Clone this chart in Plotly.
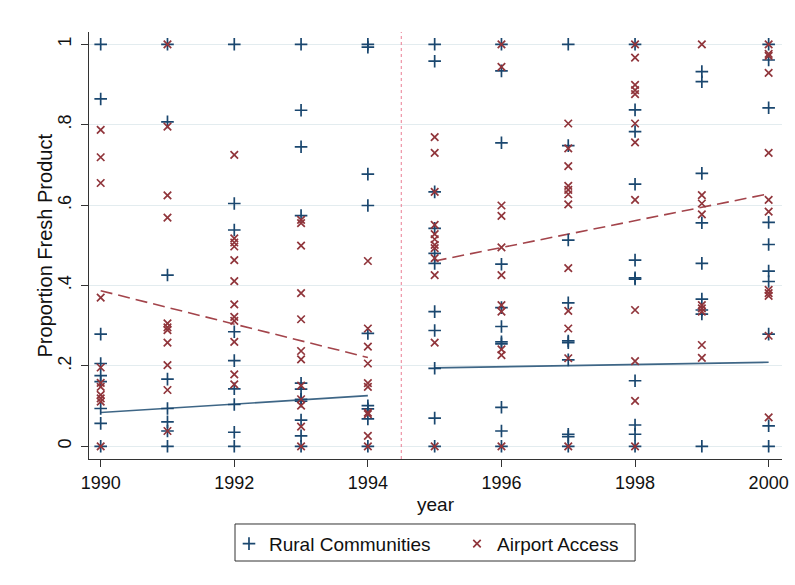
import plotly.graph_objects as go

# Proportion of fresh product by year, two community groups
years = list(range(1990, 2001))

rural_1990 = [1.0, 0.864, 0.279, 0.206, 0.176, 0.161, 0.094, 0.057, 0.0]
rural_1991 = [1.0, 0.807, 0.426, 0.167, 0.094, 0.061, 0.038, 0.0]
rural_1992 = [1.0, 0.604, 0.538, 0.285, 0.213, 0.143, 0.104, 0.035, 0.0]
rural_1993 = [1.0, 0.836, 0.745, 0.574, 0.157, 0.142, 0.117, 0.112, 0.065, 0.026, 0.0]
rural_1994 = [1.0, 0.993, 0.677, 0.599, 0.281, 0.101, 0.093, 0.068, 0.0]
rural_1995 = [1.0, 0.958, 0.633, 0.542, 0.480, 0.455, 0.335, 0.288, 0.194, 0.070, 0.0]
rural_1996 = [1.0, 0.934, 0.755, 0.453, 0.345, 0.298, 0.260, 0.255, 0.097, 0.038, 0.0]
rural_1997 = [1.0, 0.748, 0.513, 0.357, 0.262, 0.258, 0.215, 0.030, 0.024, 0.0]
rural_1998 = [1.0, 0.837, 0.783, 0.652, 0.463, 0.419, 0.416, 0.163, 0.053, 0.030, 0.0]
rural_1999 = [0.932, 0.907, 0.679, 0.556, 0.455, 0.366, 0.339, 0.329, 0.0]
rural_2000 = [1.0, 0.961, 0.842, 0.557, 0.502, 0.436, 0.410, 0.279, 0.051, 0.0]

airport_1990 = [0.787, 0.719, 0.655, 0.370, 0.196, 0.158, 0.148, 0.128, 0.119, 0.111, 0.0]
airport_1991 = [1.0, 0.795, 0.624, 0.569, 0.306, 0.296, 0.289, 0.258, 0.202, 0.140, 0.038]
airport_1992 = [0.725, 0.517, 0.507, 0.497, 0.463, 0.411, 0.353, 0.322, 0.312, 0.260, 0.179, 0.154]
airport_1993 = [0.563, 0.555, 0.499, 0.381, 0.316, 0.237, 0.216, 0.151, 0.117, 0.101, 0.049, 0.0]
airport_1994 = [0.461, 0.293, 0.248, 0.206, 0.157, 0.148, 0.084, 0.080, 0.026, 0.0]
airport_1995 = [0.769, 0.730, 0.633, 0.551, 0.528, 0.515, 0.501, 0.493, 0.468, 0.426, 0.258, 0.0]
airport_1996 = [1.0, 0.944, 0.599, 0.573, 0.495, 0.426, 0.351, 0.335, 0.241, 0.227, 0.0]
airport_1997 = [0.803, 0.741, 0.697, 0.648, 0.638, 0.627, 0.602, 0.443, 0.337, 0.293, 0.219, 0.0]
airport_1998 = [1.0, 0.967, 0.899, 0.886, 0.876, 0.803, 0.756, 0.613, 0.339, 0.212, 0.113, 0.0]
airport_1999 = [1.0, 0.625, 0.604, 0.577, 0.351, 0.343, 0.335, 0.252, 0.220]
airport_2000 = [1.0, 0.976, 0.971, 0.929, 0.730, 0.613, 0.584, 0.389, 0.381, 0.374, 0.275, 0.072]

rural_by_year = [rural_1990, rural_1991, rural_1992, rural_1993, rural_1994, rural_1995,
                 rural_1996, rural_1997, rural_1998, rural_1999, rural_2000]
airport_by_year = [airport_1990, airport_1991, airport_1992, airport_1993, airport_1994,
                   airport_1995, airport_1996, airport_1997, airport_1998, airport_1999,
                   airport_2000]

# Linear fits before and after the 1994.5 break
fit_years_pre = [1990, 1994]
fit_years_post = [1995, 2000]
rural_fit_pre = [0.084, 0.126]
rural_fit_post = [0.195, 0.209]
airport_fit_pre = [0.387, 0.221]
airport_fit_post = [0.461, 0.628]
break_year = 1994.5

y_ticks = [0, 0.2, 0.4, 0.6, 0.8, 1.0]
y_tick_labels = ["0", ".2", ".4", ".6", ".8", "1"]
x_ticks = [1990, 1992, 1994, 1996, 1998, 2000]

NAVY = "#1a476f"
MAROON = "#90353b"
FONT = "Liberation Sans, Arial, sans-serif"


def flatten(groups):
    xs, ys = [], []
    for yr, vals in zip(years, groups):
        xs.extend([yr] * len(vals))
        ys.extend(vals)
    return xs, ys


fig = go.Figure()

rx, ry = flatten(rural_by_year)
ax, ay = flatten(airport_by_year)

# fitted lines drawn first so markers sit above them
fig.add_trace(go.Scatter(x=fit_years_pre, y=rural_fit_pre, mode="lines",
                         line=dict(color="#3e6686", width=1.6), showlegend=False))
fig.add_trace(go.Scatter(x=fit_years_post, y=rural_fit_post, mode="lines",
                         line=dict(color="#3e6686", width=1.6), showlegend=False))
fig.add_trace(go.Scatter(x=fit_years_pre, y=airport_fit_pre, mode="lines",
                         line=dict(color="#a3444b", width=1.6, dash="12px,6px"),
                         showlegend=False))
fig.add_trace(go.Scatter(x=fit_years_post, y=airport_fit_post, mode="lines",
                         line=dict(color="#a3444b", width=1.6, dash="12px,6px"),
                         showlegend=False))

fig.add_trace(go.Scatter(x=rx, y=ry, mode="markers", name="Rural Communities",
                         legend="legend",
                         marker=dict(symbol="cross-thin", size=9, color=NAVY,
                                     line=dict(color=NAVY, width=1.7))))
fig.add_trace(go.Scatter(x=ax, y=ay, mode="markers", name="Airport Access",
                         legend="legend2",
                         marker=dict(symbol="x-thin", size=7.5, color=MAROON,
                                     line=dict(color=MAROON, width=1.7))))

# dotted break line
fig.add_shape(type="line", x0=break_year, x1=break_year, y0=0, y1=1,
              xref="x", yref="paper",
              line=dict(color="#ea7d93", width=1, dash="dot"))

# frame around the two legend entries
fig.add_shape(type="rect", xref="paper", yref="paper",
              x0=0.2107, x1=0.788, y0=-0.2389, y1=-0.1522,
              line=dict(color="#333", width=1), fillcolor="rgba(0,0,0,0)")

# vertical y-axis title
fig.add_annotation(text="Proportion Fresh Product", xref="paper", yref="paper",
                   x=-0.0635, y=0.5, xanchor="center", yanchor="middle",
                   textangle=-90, showarrow=False, font=dict(size=20))

legend_style = dict(orientation="h", xanchor="left", y=-0.154, yanchor="top",
                    borderwidth=0, bgcolor="rgba(0,0,0,0)", font=dict(size=19),
                    itemwidth=30)

fig.update_layout(
    width=795, height=585,
    margin=dict(l=89, r=13, t=32, b=126),
    paper_bgcolor="white", plot_bgcolor="white",
    font=dict(family=FONT, size=18, color="#111"),
    legend=dict(x=0.2020, **legend_style),
    legend2=dict(x=0.531, **legend_style),
)

fig.update_xaxes(
    range=[1989.825, 2000.2], tickvals=x_ticks, showgrid=False, zeroline=False,
    showline=True, linecolor="#333", linewidth=1.3, automargin=False,
    ticks="outside", ticklen=7, tickcolor="#333", tickwidth=1.3,
    title=dict(text="year", standoff=5, font=dict(size=19)),
)
fig.update_yaxes(
    range=[-0.0316, 1.0306], tickvals=y_ticks, ticktext=y_tick_labels, tickangle=-90,
    showgrid=True, gridcolor="#e3ecef", gridwidth=1.3, zeroline=False,
    showline=True, linecolor="#333", linewidth=1.3, automargin=False,
    ticks="outside", ticklen=7, tickcolor="#333", tickwidth=1.3, ticklabelstandoff=3,
)

fig.write_html("out.html")
